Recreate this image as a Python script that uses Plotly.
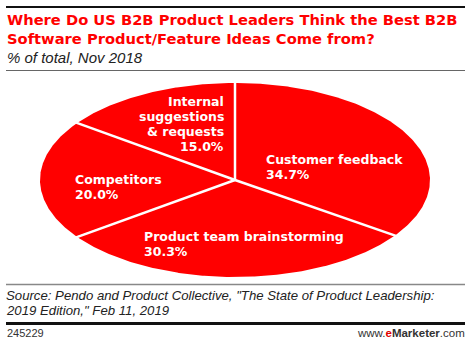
import numpy as np
import plotly.graph_objects as go

# Survey shares, clockwise from 12 o'clock
categories = ["Customer feedback", "Product team brainstorming", "Competitors",
              "Internal suggestions & requests"]
shares = [34.7, 30.3, 20.0, 15.0]
label_lines = [["Customer feedback"], ["Product team brainstorming"], ["Competitors"],
               ["Internal", "suggestions", "& requests"]]

W, H = 470, 344
RED = "#ff0000"

# ellipse footprint in pixels (centre and half-axes)
CX, CY, RX, RY = 235, 180, 195, 97


def px_x(p):
    return p / W


def px_y(p):
    return 1 - p / H


fig = go.Figure()

# slice wedges on a unit circle, stretched to an ellipse by the axis domains
total = sum(shares)
bounds = np.concatenate([[0], np.cumsum(shares)]) / total * 2 * np.pi
for i, name in enumerate(categories):
    t = np.linspace(bounds[i], bounds[i + 1], 200)
    xs = np.concatenate([[0], np.sin(t), [0]])
    ys = np.concatenate([[0], np.cos(t), [0]])
    fig.add_trace(go.Scatter(x=xs, y=ys, mode="lines", fill="toself",
                             fillcolor=RED, line=dict(width=0),
                             name=name, hoverinfo="name", showlegend=False))

# white separators along slice boundaries
for b in bounds[:-1]:
    fig.add_trace(go.Scatter(x=[0, np.sin(b) * 1.02], y=[0, np.cos(b) * 1.02],
                             mode="lines", line=dict(color="white", width=2.5),
                             hoverinfo="skip", showlegend=False))

fig.update_xaxes(range=[-1, 1], domain=[(CX - RX) / W, (CX + RX) / W],
                 visible=False, fixedrange=True)
fig.update_yaxes(range=[-1, 1], domain=[1 - (CY + RY) / H, 1 - (CY - RY) / H],
                 visible=False, fixedrange=True)

# slice labels: anchor x, first baseline (pixels), alignment; one annotation per line
label_pos = [(264, 163, "left"), (142, 240, "left"), (73, 183, "left"), (226, 105, "right")]
LEAD = 15
lab_font = dict(family="DejaVu Sans", size=12.5, color="white", weight="bold")
for lines, v, (px, base, xa) in zip(label_lines, shares, label_pos):
    for k, line in enumerate(lines + [f"{v:.1f}%"]):
        top = base + LEAD * k - 13
        fig.add_annotation(x=(px - CX) / RX, y=(CY - top) / RY, xref="x", yref="y",
                           text=line, showarrow=False, xanchor=xa, yanchor="top",
                           align=xa, font=lab_font)

# header
fig.add_annotation(x=px_x(5), y=px_y(9), xref="paper", yref="paper",
                   text="Where Do US B2B Product Leaders Think the Best B2B<br>"
                        "Software Product/Feature Ideas Come from?",
                   showarrow=False, xanchor="left", yanchor="top", align="left",
                   font=dict(family="DejaVu Sans", size=14.7, color=RED, weight="bold"))
fig.add_annotation(x=px_x(5), y=px_y(47), xref="paper", yref="paper",
                   text="<i>% of total, Nov 2018</i>", showarrow=False,
                   xanchor="left", yanchor="top",
                   font=dict(family="Liberation Sans", size=15, color="#222"))

# footer
src_font = dict(family="Liberation Sans", size=13.2, color="#222")
for top, line in [(287, "<i>Source: Pendo and Product Collective, \"The State of Product Leadership:</i>"),
                  (302, "<i>2019 Edition,\" Feb 11, 2019</i>")]:
    fig.add_annotation(x=px_x(5), y=px_y(top), xref="paper", yref="paper",
                       text=line, showarrow=False, xanchor="left", yanchor="top",
                       borderpad=0, font=src_font)
fig.add_annotation(x=px_x(5), y=px_y(325), xref="paper", yref="paper",
                   text="245229", showarrow=False, xanchor="left", yanchor="top",
                   font=dict(family="Liberation Sans", size=11, color="#333"))
fig.add_annotation(x=px_x(467), y=px_y(325), xref="paper", yref="paper",
                   text="www.<b><span style='color:#e00000'>e</span>Marketer</b>.com",
                   showarrow=False, xanchor="right", yanchor="top",
                   font=dict(family="Liberation Sans", size=11.5, color="#333"))

# rules
rules = [(7, 2, "#111"), (70.5, 1, "#666"), (284.5, 1.5, "#888"), (323.5, 3, "#111")]
for y, w, c in rules:
    fig.add_shape(type="line", xref="paper", yref="paper",
                  x0=px_x(6), x1=px_x(465), y0=px_y(y), y1=px_y(y),
                  line=dict(color=c, width=w))

fig.update_layout(width=W, height=H, margin=dict(l=0, r=0, t=0, b=0),
                  paper_bgcolor="white", plot_bgcolor="white", showlegend=False)

fig.write_html("out.html")
